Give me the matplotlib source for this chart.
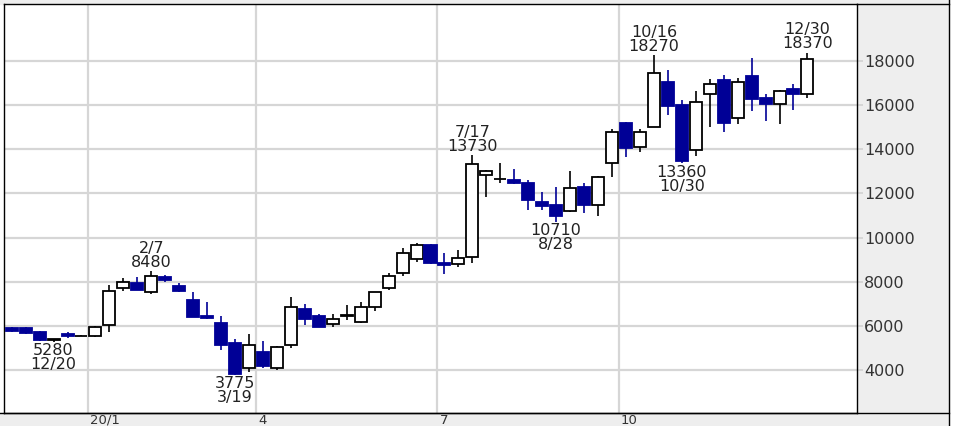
import numpy as np
import matplotlib.pyplot as plt
from matplotlib.patches import Rectangle
from matplotlib.lines import Line2D
from matplotlib.transforms import ScaledTranslation

# weekly OHLC, week of 2019-11-25 .. week of 2020-12-28
opens = [5900, 5900, 5740, 5360, 5650, 5540, 5550, 6040, 7720, 7960,
         7520, 8230, 7800, 7170, 6460, 6120, 5240, 4110, 4830, 4110,
         5130, 6780, 6430, 6090, 6430, 6190, 6840, 7700, 8380, 9030,
         9640, 8830, 8790, 9140, 12840, 12640, 12610, 12460, 11630, 11480,
         11180, 12280, 11480, 13370, 15180, 14120, 15000, 17060, 16010, 13970,
         16490, 17140, 15400, 17320, 16310, 16040, 16720, 16500]
highs = [5950, 5950, 5760, 5420, 5720, 5570, 5990, 7860, 8150, 8230,
         8480, 8290, 7930, 7520, 7060, 6450, 5400, 5630, 5290, 5100,
         7320, 6990, 6540, 6540, 6950, 7100, 7540, 8410, 9520, 9740,
         9700, 9290, 9440, 13730, 13080, 13370, 13090, 12610, 12080, 12270,
         13030, 12490, 12780, 14910, 15250, 14910, 18270, 17590, 16240, 16660,
         17170, 17370, 17250, 18120, 16490, 16700, 16960, 18370]
lows = [5740, 5620, 5320, 5280, 5450, 5520, 5500, 5700, 7580, 7600,
        7450, 7990, 7540, 6380, 6330, 4910, 3775, 3900, 4080, 3980,
        4980, 6040, 5940, 5940, 6270, 6120, 6680, 7630, 8260, 8910,
        8800, 8350, 8680, 8830, 11850, 12460, 12430, 11250, 11260, 10710,
        11170, 11130, 10980, 12760, 13670, 13890, 14990, 15550, 13360, 13700,
        15030, 14800, 15150, 15740, 15300, 15150, 15780, 16310]
closes = [5780, 5680, 5370, 5400, 5560, 5560, 5960, 7590, 7980, 7640,
          8260, 8060, 7590, 6420, 6350, 5140, 3800, 5130, 4160, 5060,
          6840, 6310, 5950, 6300, 6470, 6840, 7520, 8260, 9290, 9640,
          8840, 8740, 9090, 13320, 13030, 12660, 12470, 11700, 11450, 10990,
          12260, 11480, 12760, 14800, 14060, 14800, 17470, 15940, 13480, 16160,
          16960, 15180, 17060, 16280, 16050, 16650, 16500, 18080]

# marked highs / lows: (week index, date label)
high_marks = [(10, '2/7'), (33, '7/17'), (46, '10/16'), (57, '12/30')]
low_marks = [(3, '12/20'), (16, '3/19'), (39, '8/28'), (48, '10/30')]

month_pos = [5.5, 17.5, 30.5, 43.5]
month_labels = ['20/1', '4', '7', '10']
y_ticks = [4000, 6000, 8000, 10000, 12000, 14000, 16000, 18000]

up_color = 'white'
down_color = '#000096'
grid_color = '#d6d6d6'
panel_color = '#eeeeee'

W, H = 963, 426
fig = plt.figure(figsize=(W / 100, H / 100), dpi=100)

def fx(px):
    return px / W

def fy(py):
    return 1 - py / H

# gray frame panels
for x0, y0, x1, y1 in [(0, 0, 949, 4), (857, 4, 949, 413), (0, 413, 949, 426)]:
    fig.patches.append(Rectangle((fx(x0), fy(y1)), fx(x1 - x0), (y1 - y0) / H,
                                 transform=fig.transFigure, color=panel_color, zorder=-2))
for xs, ys in [([857, 949], [4, 4]), ([0, 949], [413, 413]), ([949, 949], [0, 426])]:
    fig.lines.append(Line2D([fx(v) for v in xs], [fy(v) for v in ys],
                            transform=fig.transFigure, color='black', lw=1, zorder=5))

ax = fig.add_axes([fx(4), fy(413), fx(853), 409 / H])
x = np.arange(len(opens))
o, h, l, c = map(np.array, (opens, highs, lows, closes))
up = c >= o

# wicks
ax.vlines(x[up], l[up], h[up], color='black', lw=1.2, zorder=2)
ax.vlines(x[~up], l[~up], h[~up], color=down_color, lw=1.2, zorder=2)
# bodies
ax.bar(x[up], c[up] - o[up], bottom=o[up], width=0.86, color=up_color,
       edgecolor='black', lw=1.3, zorder=3)
ax.bar(x[~up], o[~up] - c[~up], bottom=c[~up], width=0.86, color=down_color,
       edgecolor=down_color, lw=1.3, zorder=3)

for i, d in high_marks:
    ax.annotate(f'{d}\n{highs[i]}', (x[i], highs[i]), xytext=(0, 1),
                textcoords='offset points', ha='center', va='bottom',
                fontsize=11.5, color='#222222', linespacing=0.92, zorder=4)
for i, d in low_marks:
    ax.annotate(f'{lows[i]}\n{d}', (x[i], lows[i]), xytext=(0, -1),
                textcoords='offset points', ha='center', va='top',
                fontsize=11.5, color='#222222', linespacing=0.92, zorder=4)

ax.set_xlim(-0.55, 60.55)
ax.set_ylim(2050, 20580)
ax.set_xticks(month_pos)
ax.set_xticklabels(month_labels, ha='left')
ax.set_yticks(y_ticks)
ax.set_yticklabels([str(v) for v in y_ticks])
ax.yaxis.tick_right()
ax.tick_params(axis='x', length=0, pad=0.6, labelsize=9.5, labelcolor='#333333')
ax.tick_params(axis='y', length=4, width=1.4, color=grid_color, pad=1.2,
               labelsize=11.5, labelcolor='#333333')
shift = ScaledTranslation(2 / 100, 0, fig.dpi_scale_trans)
for lbl in ax.get_xticklabels():
    lbl.set_transform(lbl.get_transform() + shift)

ax.grid(True, color=grid_color, lw=1.6)
ax.set_axisbelow(True)
for s in ax.spines.values():
    s.set_color('black')
    s.set_linewidth(1)

fig.savefig('out.png', dpi=100)
